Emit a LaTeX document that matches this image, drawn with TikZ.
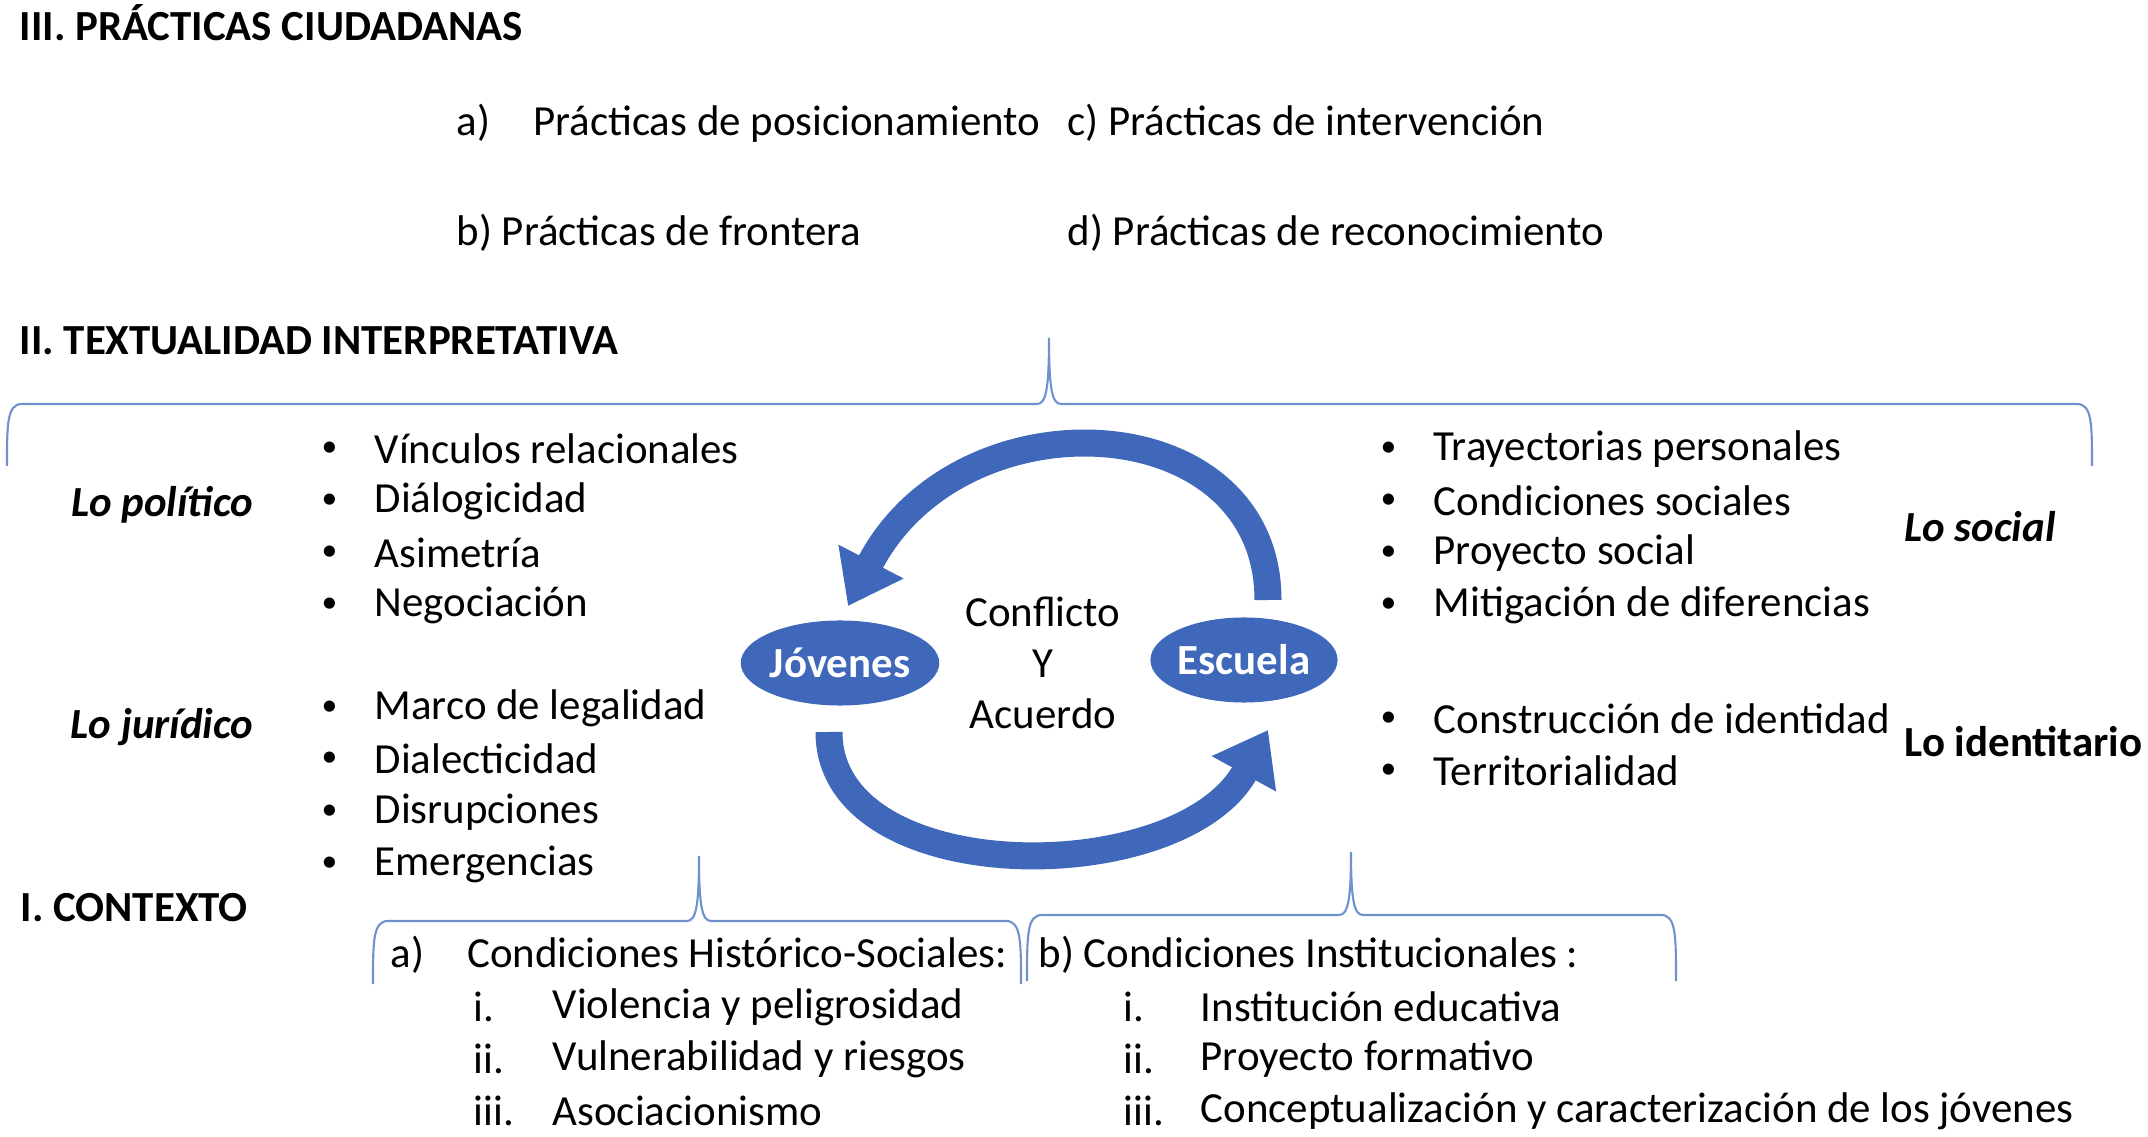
\documentclass[tikz,border=0pt]{standalone}
\usepackage{fontspec}
\setmainfont{Carlito}
\usetikzlibrary{arrows.meta,shapes.geometric}
\definecolor{cycleblue}{HTML}{3F67BA}
\definecolor{bracecol}{HTML}{6F92CF}
\tikzset{
  txt/.style={anchor=west,inner sep=0,font=\fontsize{12.2}{14}\selectfont},
  ttl/.style={txt,font=\fontsize{12.2}{14}\selectfont\bfseries},
  dim/.style={anchor=center,inner sep=0,font=\fontsize{12.2}{14}\selectfont\bfseries\itshape},
  actor/.style={ellipse,fill=cycleblue,text=white,minimum width=1.62cm,minimum height=0.85cm,inner sep=0,font=\fontsize{12.2}{14}\selectfont\bfseries},
  cyc/.style={draw=cycleblue,line width=0.27cm,-{Triangle[width=0.7cm,length=0.5cm]}},
  brace/.style={draw=bracecol,line width=0.6pt}
}
% brace: left x, right x, tip x, tip y, bar y, end y
\newcommand{\cbrace}[6]{%
  \draw[brace] (#1,#6) .. controls (#1,#5+20) and (#1,#5) .. (#1+15,#5)
    -- (#3-12,#5) .. controls (#3-3,#5) and (#3,#5-15) .. (#3,#4)
    .. controls (#3,#5-15) and (#3+3,#5) .. (#3+12,#5)
    -- (#2-15,#5) .. controls (#2,#5) and (#2,#5+20) .. (#2,#6);}
\begin{document}
\begin{tikzpicture}[x=0.01cm,y=-0.01cm]
\useasboundingbox (0,0) rectangle (2148,1137);
% titles
\node[ttl] (t3) at (19,23) {III. PRÁCTICAS CIUDADANAS};
\node[ttl] (t2) at (19,341) {II. TEXTUALIDAD INTERPRETATIVA};
\node[ttl] (t1) at (20,908) {I. CONTEXTO};
% practices
\node[txt] (pa) at (456,123) {a)\enspace\; Prácticas de posicionamiento};
\node[txt] (pc) at (1067,123) {c) Prácticas de intervención};
\node[txt] (pb) at (456,233) {b) Prácticas de frontera};
\node[txt] (pd) at (1067,233) {d) Prácticas de reconocimiento};
% braces
\cbrace{7}{2092}{1049}{338}{404}{466}
\cbrace{373}{1021}{699}{856}{921}{984}
\cbrace{1027}{1676}{1351}{852}{915}{981}
% dimensions
\node[dim] (pol) at (162,505) {Lo político};
\node[dim] (jur) at (162,727) {Lo jurídico};
\node[dim] (soc) at (1980,527) {Lo social};
\node[ttl] (ide) at (1904,742) {Lo identitario};
% bullet lists
\foreach \t/\y [count=\i] in {Vínculos relacionales/449,Diálogicidad/501,Asimetría/553,Negociación/605,
    Marco de legalidad/708,Dialecticidad/759,Disrupciones/812,Emergencias/864}{
  \node[txt,font=\small] (lb\i) at (321,\y) {•};
  \node[txt] (l\i) at (374,\y) {\t};
}
\foreach \t/\y [count=\i] in {Trayectorias personales/449,Condiciones sociales/501,Proyecto social/553,
    Mitigación de diferencias/605,Construcción de identidad/719,Territorialidad/771}{
  \node[txt,font=\small] (rb\i) at (1380,\y) {•};
  \node[txt] (r\i) at (1433,\y) {\t};
}
% cycle
\coordinate (ts) at (1268,600);
\coordinate (te) at (848,606);
\coordinate (bs) at (829,732);
\coordinate (be) at (1268,730);
\draw[cyc] (ts) .. controls (1268,405) and (960,390) .. (te);
\draw[cyc] (bs) .. controls (829,890) and (1180,890) .. (be);
\node[actor] (jov) at (840,663) {Jóvenes};
\node[actor,minimum width=1.67cm] (esc) at (1244,660) {Escuela};
\node[txt,anchor=center,align=center,font=\fontsize{12.2}{14.5}\selectfont] (ca) at (1043,663) {Conflicto\\Y\\Acuerdo};
% context
\node[txt] (ca1) at (390,955) {a)\enspace\; Condiciones Histórico-Sociales:};
\node[txt] (cb1) at (1038,955) {b) Condiciones Institucionales :};
\foreach \r/\t/\y [count=\i] in {i./Violencia y peligrosidad/1007,ii./Vulnerabilidad y riesgos/1059,iii./Asociacionismo/1111}{
  \node[txt] (ar\i) at (473,\y) {\r};
  \node[txt] (a\i) at (552,\y) {\t};
}
\foreach \r/\t/\y [count=\i] in {i./Institución educativa/1007,ii./Proyecto formativo/1059,iii./Conceptualización y caracterización de los jóvenes/1111}{
  \node[txt] (br\i) at (1123,\y) {\r};
  \node[txt] (b\i) at (1200,\y) {\t};
}
\end{tikzpicture}
\end{document}
